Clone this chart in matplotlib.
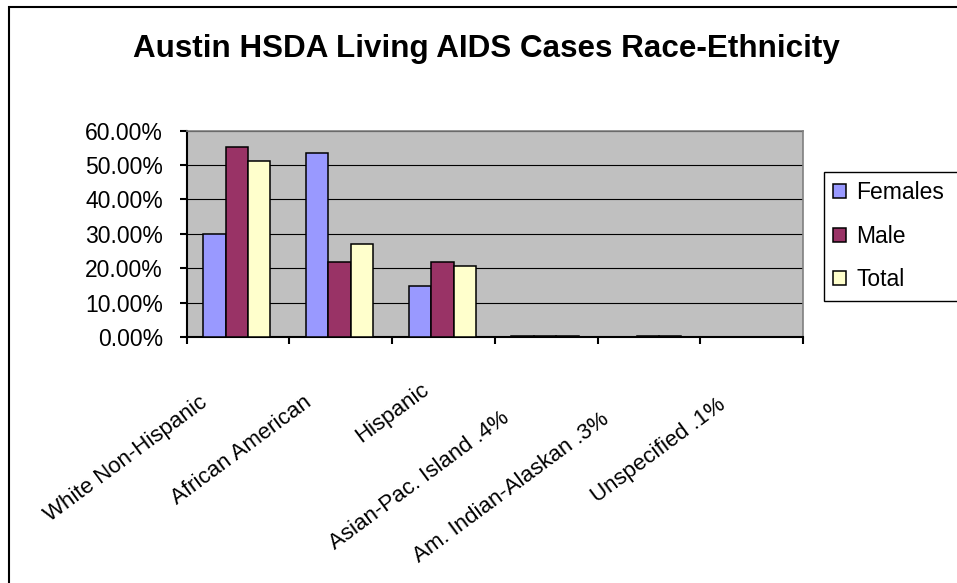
import matplotlib
matplotlib.use("Agg")
import matplotlib.pyplot as plt
from matplotlib.patches import Patch, Rectangle
from matplotlib.ticker import FuncFormatter
from matplotlib.transforms import ScaledTranslation, blended_transform_factory
import numpy as np

plt.rcParams['font.family'] = ['Liberation Sans', 'DejaVu Sans']

# Share of living AIDS cases (percent) by race/ethnicity
categories = ["White Non-Hispanic", "African American", "Hispanic",
              "Asian-Pac. Island .4%", "Am. Indian-Alaskan .3%", "Unspecified .1%"]
females = [30.0, 53.4, 14.8, 0.4, 0.0, 0.0]
male = [55.2, 21.8, 21.8, 0.4, 0.3, 0.1]
total = [51.1, 27.1, 20.7, 0.4, 0.3, 0.1]
series_names = ["Females", "Male", "Total"]
y_ticks = [0, 10, 20, 30, 40, 50, 60]
title = "Austin HSDA Living AIDS Cases Race-Ethnicity"

colors = ["#9999FF", "#993366", "#FFFFCC"]
# per-label placement of the rotated category names (pixels right, pixels below axis)
label_offsets = [(-29, 68), (-28, 68), (-13, 55), (-36, 83), (-39, 85), (-25, 70)]

W, H = 957, 583
fig = plt.figure(figsize=(W / 100, H / 100), dpi=100)
ax = fig.add_axes([186.5 / W, 1 - 337 / H, (803 - 186.5) / W, (337 - 130.5) / H])

n = len(categories)
x = np.arange(n) + 0.49
bw = 0.218
for k, vals in enumerate([females, male, total]):
    ax.bar(x + (k - 1) * bw, vals, width=bw, color=colors[k],
           edgecolor="black", linewidth=1.1, zorder=3)

ax.set_xlim(0, n)
ax.set_ylim(0, 60)
ax.set_facecolor("#C0C0C0")
ax.set_axisbelow(True)
ax.yaxis.grid(True, color="black", linewidth=0.8)

ax.set_yticks(y_ticks)
ax.yaxis.set_major_formatter(FuncFormatter(lambda v, p: f"{v:.2f}%"))
ax.tick_params(axis="y", direction="out", length=5, width=1.5,
               labelsize=16.5, pad=12)
ax.set_xticks(np.arange(n + 1))
ax.set_xticklabels([])
ax.tick_params(axis="x", direction="out", length=5, width=1.5)

for side in ("left", "bottom"):
    ax.spines[side].set_color("black")
    ax.spines[side].set_linewidth(1.5)
for side in ("top", "right"):
    ax.spines[side].set_color("#808080")
    ax.spines[side].set_linewidth(1.2)

# rotated category names under the axis
trans = blended_transform_factory(ax.transData, ax.transAxes)
for i, (lab, (dx, dy)) in enumerate(zip(categories, label_offsets)):
    ax.text(i + 0.5, 0, lab,
            transform=trans + ScaledTranslation(dx / 100, -dy / 100, fig.dpi_scale_trans),
            rotation=36.5, rotation_mode="anchor", ha="right", va="baseline",
            fontsize=16)

fig.text(486.5 / W, 1 - 57.3 / H, title, ha="center", va="baseline",
         fontsize=22.6, fontweight="bold")

handles = [Patch(facecolor=c, edgecolor="black", linewidth=1.1) for c in colors]
leg = fig.legend(handles, series_names, loc="upper left", mode="expand",
                 bbox_to_anchor=(824 / W, 1 - 300 / H, 140 / W, 128 / H),
                 bbox_transform=fig.transFigure,
                 borderaxespad=0, frameon=True, fancybox=False, edgecolor="black",
                 framealpha=1, fontsize=16.5, handlelength=0.57, handleheight=0.57,
                 handletextpad=0.44, borderpad=0.4, labelspacing=0.9)
leg.get_frame().set_linewidth(1.0)

# outer chart border
fig.patches.append(Rectangle((9 / W, -0.1), 1.2, 1.1 - 7 / H, transform=fig.transFigure,
                             fill=False, edgecolor="black", linewidth=1.5))

fig.savefig("out.png", dpi=100)
